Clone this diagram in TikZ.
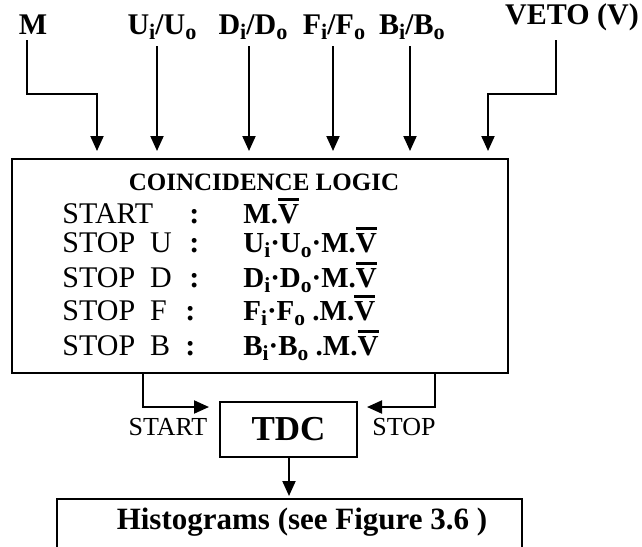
\documentclass[tikz,border=0pt]{standalone}
\usepackage{fontspec}
\setmainfont{Liberation Serif}
\usepackage{graphicx}
\usetikzlibrary{arrows.meta,calc}
\newcommand{\sbs}[1]{\raisebox{-0.42ex}{\scalebox{0.74}{#1}}}
\newcommand{\ovV}{\setbox0\hbox{V}\rlap{\raisebox{\dimexpr\ht0+0.12em\relax}{\rule{\wd0}{0.1em}}}V}
\tikzset{
  box/.style={draw, line width=1pt, inner sep=0pt},
  arr/.style={line width=1pt, -{Triangle[length=7.5pt,width=6.5pt]}},
  toplab/.style={font=\fontsize{15}{17}\selectfont\bfseries, inner sep=0pt, anchor=base},
  rowlab/.style={font=\fontsize{15}{17}\selectfont, inner sep=0pt, anchor=base west},
  rowfor/.style={font=\fontsize{14.5}{17}\selectfont\bfseries, inner sep=0pt, anchor=base west},
  sidelab/.style={font=\fontsize{13}{15}\selectfont, inner sep=0pt, anchor=base},
}
\begin{document}
\begin{tikzpicture}[x=0.5pt,y=-0.5pt]
\clip (0,0) rectangle (642,546);
\useasboundingbox (0,0) rectangle (642,546);
% top labels
\node[toplab] (m) at (33,34) {M};
\node[toplab] (ui) at (162,34) {U\sbs{i}/U\sbs{o}};
\node[toplab] (di) at (253,34) {D\sbs{i}/D\sbs{o}};
\node[toplab] (fi) at (334,34) {F\sbs{i}/F\sbs{o}};
\node[toplab] (bi) at (412,34) {B\sbs{i}/B\sbs{o}};
\node[toplab] (veto) at (572,25) {VETO (V)};
% boxes
\node[box, minimum width=248pt, minimum height=107pt] (cl) at (260,266) {};
\node[box, minimum width=68.5pt, minimum height=27.5pt,
      font=\fontsize{17.5}{19}\selectfont\bfseries] (tdc) at (288.5,429.5) {TDC};
\node[box, minimum width=232.5pt, minimum height=40pt] (hist) at (289.5,539) {};
\node[font=\fontsize{15.5}{17}\selectfont\bfseries, inner sep=0pt, anchor=base] (histtext) at (302,529) {Histograms (see Figure 3.6 )};
% coincidence logic texts
\node[font=\fontsize{12.5}{14}\selectfont\bfseries, inner sep=0pt, anchor=base] (title) at (264,190) {COINCIDENCE LOGIC};
\node[rowlab] (r1) at (62,223) {START};
\node[rowlab] (r2) at (62,252) {STOP\ \ U};
\node[rowlab] (r3) at (62,287) {STOP\ \ D};
\node[rowlab] (r4) at (62,320) {STOP\ \ F};
\node[rowlab] (r5) at (62,355) {STOP\ \ B};
\node[rowlab] (c1) at (189,223) {\bfseries :};
\node[rowlab] (c2) at (189,252) {\bfseries :};
\node[rowlab] (c3) at (189,287) {\bfseries :};
\node[rowlab] (c4) at (185,320) {\bfseries :};
\node[rowlab] (c5) at (185,355) {\bfseries :};
\node[rowfor] (f1) at (243,223) {M.\ovV};
\node[rowfor] (f2) at (243,252) {U\sbs{i}·U\sbs{o}·M.\ovV};
\node[rowfor] (f3) at (243,287) {D\sbs{i}·D\sbs{o}·M.\ovV};
\node[rowfor] (f4) at (243,320) {F\sbs{i}·F\sbs{o} .M.\ovV};
\node[rowfor] (f5) at (243,355) {B\sbs{i}·B\sbs{o} .M.\ovV};
% side labels
\node[sidelab] (startlab) at (168,435) {START};
\node[sidelab] (stoplab) at (404,435) {STOP};
% connector coordinates
\coordinate (mtop) at (27,40);
\coordinate (mbend) at (97,94);
\coordinate (vtop) at (556,40);
\coordinate (vbend) at (488,94);
\coordinate (uitop) at (157,46);
\coordinate (ditop) at (249,46);
\coordinate (fitop) at (333,46);
\coordinate (bitop) at (410,46);
\coordinate (sx) at (143,0);
\coordinate (px) at (435,0);
% connectors
\draw[arr, shorten >=3.5pt] (mtop) |- (mbend) -- (mbend |- cl.north);
\draw[arr, shorten >=3.5pt] (vtop) |- (vbend) -- (vbend |- cl.north);
\draw[arr, shorten >=3.5pt] (uitop) -- (uitop |- cl.north);
\draw[arr, shorten >=3.5pt] (ditop) -- (ditop |- cl.north);
\draw[arr, shorten >=3.5pt] (fitop) -- (fitop |- cl.north);
\draw[arr, shorten >=3.5pt] (bitop) -- (bitop |- cl.north);
\draw[arr, shorten >=5pt] (cl.south -| sx) |- ([yshift=-3pt]tdc.north west);
\draw[arr, shorten >=4.5pt] (cl.south -| px) |- ([yshift=-3pt]tdc.north east);
\draw[arr, shorten >=1pt] (tdc.south -| 289,0) -- (hist.north -| 289,0);
\end{tikzpicture}
\end{document}
